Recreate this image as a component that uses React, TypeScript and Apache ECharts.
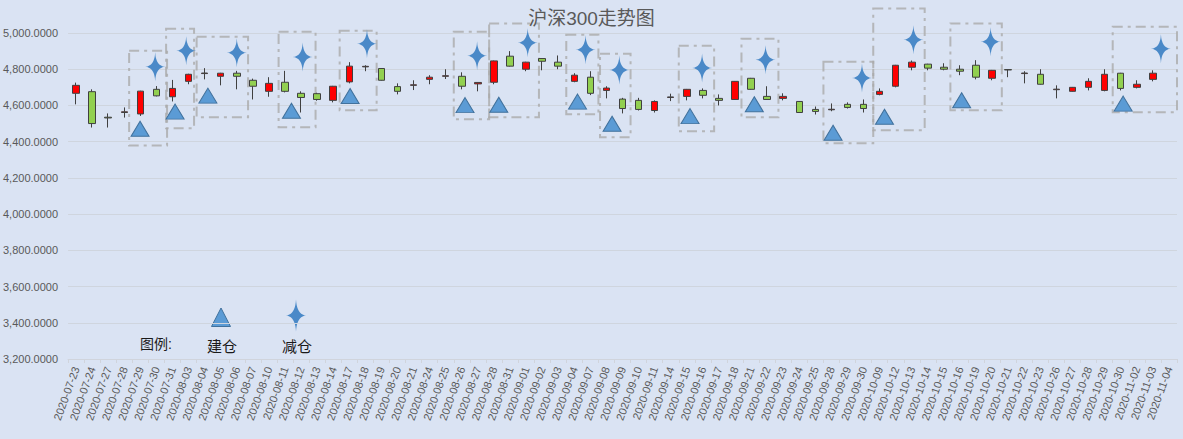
import React, { useEffect, useRef } from "react";
import * as echarts from "echarts";

const dates = [
  "2020-07-23","2020-07-24","2020-07-27","2020-07-28","2020-07-29","2020-07-30","2020-07-31",
  "2020-08-03","2020-08-04","2020-08-05","2020-08-06","2020-08-07","2020-08-10","2020-08-11",
  "2020-08-12","2020-08-13","2020-08-14","2020-08-17","2020-08-18","2020-08-19","2020-08-20",
  "2020-08-21","2020-08-24","2020-08-25","2020-08-26","2020-08-27","2020-08-28","2020-08-31",
  "2020-09-01","2020-09-02","2020-09-03","2020-09-04","2020-09-07","2020-09-08","2020-09-09",
  "2020-09-10","2020-09-11","2020-09-14","2020-09-15","2020-09-16","2020-09-17","2020-09-18",
  "2020-09-21","2020-09-22","2020-09-23","2020-09-24","2020-09-25","2020-09-28","2020-09-29",
  "2020-09-30","2020-10-09","2020-10-12","2020-10-13","2020-10-14","2020-10-15","2020-10-16",
  "2020-10-19","2020-10-20","2020-10-21","2020-10-22","2020-10-23","2020-10-26","2020-10-27",
  "2020-10-28","2020-10-29","2020-10-30","2020-11-02","2020-11-03","2020-11-04",
];

const opens = [
  4667,4676,4535,4561,4553,4689,4648,4733,4776,4761,4778,4739,4678,4728,4667,4665,4628,4730,4813,4804,
  4704,4711,4744,4761,4761,4719,4728,4872,4800,4859,4839,4733,4756,4683,4635,4628,4572,4644,4650,4683,
  4639,4633,4750,4650,4639,4622,4578,4576,4606,4606,4661,4706,4811,4828,4811,4800,4822,4750,4798,4776,
  4772,4687,4678,4700,4683,4778,4700,4744,null,
];
const closes = [
  4711,4500,4531,4565,4679,4653,4694,4772,4779,4778,4761,4706,4722,4678,4644,4633,4706,4817,4816,4739,
  4678,4714,4756,4764,4706,4727,4846,4817,4839,4844,4817,4767,4667,4696,4583,4578,4622,4647,4689,4656,
  4628,4733,4689,4633,4650,4561,4567,4579,4589,4583,4678,4822,4839,4806,4800,4789,4756,4794,4796,4779,
  4717,4690,4700,4733,4772,4694,4717,4778,null,
];
const lows = [
  4606,4478,4478,4533,4542,4650,4622,4717,4744,4711,4689,4633,4648,4672,4561,4626,4617,4722,4789,4737,
  4661,4685,4717,4746,4689,4678,4717,4815,4789,4794,4800,4728,4657,4639,4556,4572,4561,4624,4628,4639,
  4600,4631,4687,4631,4628,4559,4550,4568,4583,4561,4656,4700,4794,4794,4794,4767,4744,4739,4756,4722,
  4715,4639,4676,4683,4678,4683,4694,4733,null,
];
const highs = [
  4726,4689,4556,4589,4681,4707,4741,4775,4806,4780,4791,4748,4756,4791,4678,4670,4708,4839,4822,4806,
  4722,4739,4767,4800,4783,4729,4848,4900,4841,4861,4876,4778,4789,4706,4642,4642,4628,4665,4691,4694,
  4661,4735,4752,4706,4667,4624,4594,4611,4617,4633,4694,4824,4848,4830,4833,4822,4850,4796,4800,4789,
  4800,4711,4702,4750,4800,4780,4739,4794,null,
];

const yTicks = ["3,200.0000","3,400.0000","3,600.0000","3,800.0000","4,000.0000","4,200.0000","4,400.0000","4,600.0000","4,800.0000","5,000.0000"];

// 建仓 markers: [category position, price]
const buyPos = [3.98, 6.16, 8.2, 13.4, 17.05, 24.2, 26.3, 31.2, 33.35, 38.2, 42.2, 47.1, 50.3, 55.1, 65.15];
const buyVal = [4471, 4566, 4654, 4571, 4652, 4602, 4604, 4621, 4499, 4541, 4607, 4449, 4538, 4629, 4610];
// 减仓 markers
const sellPos = [4.92, 6.85, 10.0, 14.1, 18.1, 24.95, 28.1, 31.7, 33.8, 38.95, 42.9, 48.9, 52.1, 56.9, 67.5];
const sellVal = [4813, 4902, 4891, 4868, 4941, 4874, 4946, 4907, 4796, 4807, 4852, 4752, 4963, 4952, 4913];
// dashed boxes: x from, x to, price low, price high
const boxX0 = [3.3, 5.6, 7.5, 12.6, 16.4, 23.5, 25.7, 30.5, 32.6, 37.5, 41.4, 46.5, 49.6, 54.4, 64.5];
const boxX1 = [5.66, 7.34, 10.7, 14.9, 18.7, 25.7, 28.8, 32.5, 34.5, 39.7, 43.7, 49.6, 52.8, 57.6, 68.5];
const boxLow = [4379, 4474, 4535, 4479, 4574, 4524, 4535, 4552, 4424, 4457, 4535, 4391, 4463, 4574, 4563];
const boxHigh = [4902, 5024, 4979, 5007, 5013, 5007, 5052, 4991, 4885, 4929, 4968, 4841, 5135, 5052, 5035];

const FONT = "'Liberation Sans', 'Noto Sans CJK SC', sans-serif";
const STAR_PATH = "path://M10,0 Q10.6,13.4 20,14 Q10.6,14.6 10,28 Q9.4,14.6 0,14 Q9.4,13.4 10,0 Z";

function starPoints(cx: number, cy: number, w: number, h: number) {
  const hw = w / 2, hh = h / 2;
  const tips = [[0, -hh], [hw, 0], [0, hh], [-hw, 0]];
  const ctrl = [[hw * 0.08, -hh * 0.06], [hw * 0.08, hh * 0.06], [-hw * 0.08, hh * 0.06], [-hw * 0.08, -hh * 0.06]];
  const pts: number[][] = [];
  for (let k = 0; k < 4; k++) {
    const a = tips[k], b = tips[(k + 1) % 4], c = ctrl[k];
    for (let s = 0; s < 10; s++) {
      const t = s / 10;
      const x = (1 - t) * (1 - t) * a[0] + 2 * (1 - t) * t * c[0] + t * t * b[0];
      const y = (1 - t) * (1 - t) * a[1] + 2 * (1 - t) * t * c[1] + t * t * b[1];
      pts.push([cx + x, cy + y]);
    }
  }
  return pts;
}

export default function App() {
  const ref = useRef<HTMLDivElement>(null);
  useEffect(() => {
    if (!ref.current) return;
    const chart = echarts.init(ref.current, undefined, { renderer: "svg" });
    const candles = dates.map((_, i) =>
      opens[i] == null ? ["-", "-", "-", "-"] : [opens[i], closes[i], lows[i], highs[i]]
    );
    const boxes = boxX0.map((x0, i) => [x0, boxX1[i], boxLow[i], boxHigh[i]]);
    chart.setOption({
      animation: false,
      backgroundColor: "#DAE3F3",
      title: {
        text: "沪深300走势图",
        left: "center",
        top: 4,
        textStyle: { color: "#595959", fontSize: 19, fontWeight: "normal", fontFamily: FONT },
      },
      grid: { left: 68, right: 6, top: 33, bottom: 80 },
      xAxis: [
        {
          type: "category",
          data: dates,
          boundaryGap: true,
          axisLine: { lineStyle: { color: "#d0d4dc" } },
          axisTick: { show: true, length: 4, lineStyle: { color: "#d0d4dc" } },
          axisLabel: { rotate: 70, interval: 0, color: "#595959", fontSize: 11, fontFamily: FONT, margin: 8 },
          splitLine: { show: false },
        },
        { type: "value", min: -0.5, max: 68.5, show: false },
      ],
      yAxis: {
        type: "value",
        min: 3200,
        max: 5000,
        interval: 200,
        axisLine: { show: false },
        axisTick: { show: false },
        axisLabel: {
          color: "#595959",
          fontSize: 11,
          fontFamily: FONT,
          margin: 10,
          formatter: (v: number) => yTicks[Math.round((v - 3200) / 200)] ?? "",
        },
        splitLine: { lineStyle: { color: "#cfd5de" } },
      },
      series: [
        {
          type: "candlestick",
          data: candles,
          barWidth: 7,
          itemStyle: {
            color: "#FF0000",
            color0: "#92D050",
            borderColor: "#404040",
            borderColor0: "#404040",
            borderWidth: 1,
          },
        },
        {
          type: "custom",
          xAxisIndex: 1,
          clip: false,
          silent: true,
          data: boxes,
          encode: { x: [0, 1], y: [2, 3] },
          renderItem: (params: any, api: any) => {
            const p0 = api.coord([api.value(0), api.value(3)]);
            const p1 = api.coord([api.value(1), api.value(2)]);
            return {
              type: "rect",
              shape: { x: p0[0], y: p0[1], width: p1[0] - p0[0], height: p1[1] - p0[1] },
              style: {
                fill: "none",
                stroke: "rgba(170,170,170,0.8)",
                lineWidth: 2,
                lineDash: [10, 5, 3, 5],
              },
            };
          },
          z: 1,
        },
        {
          type: "scatter",
          xAxisIndex: 1,
          clip: false,
          data: buyPos.map((x, i) => [x, buyVal[i]]),
          symbol: "triangle",
          symbolSize: [18, 15],
          itemStyle: { color: "#5B9BD5", borderColor: "#41719C", borderWidth: 1, opacity: 1 },
          z: 5,
        },
        {
          type: "scatter",
          xAxisIndex: 1,
          clip: false,
          data: sellPos.map((x, i) => [x, sellVal[i]]),
          symbol: STAR_PATH,
          symbolSize: [20, 29],
          itemStyle: { color: "#4A89C8", opacity: 1, borderWidth: 0 },
          z: 5,
        },
      ],
      graphic: [
        { type: "text", left: 140, top: 337, style: { text: "图例:", fill: "#1a1a1a", font: `14px ${FONT}` } },
        {
          type: "polygon",
          shape: { points: [[221, 308], [230.5, 326.5], [211.5, 326.5]] },
          style: { fill: "#5B9BD5", stroke: "#41719C", lineWidth: 1 },
        },
        { type: "text", left: 207, top: 339, style: { text: "建仓", fill: "#1a1a1a", font: `15px ${FONT}` } },
        {
          type: "polygon",
          shape: { points: starPoints(296, 315.5, 20, 32) },
          style: { fill: "#4A89C8" },
        },
        { type: "text", left: 282, top: 339, style: { text: "减仓", fill: "#1a1a1a", font: `15px ${FONT}` } },
      ],
    });
    return () => chart.dispose();
  }, []);
  return (
    <div
      ref={ref}
      style={{ position: "fixed", left: 0, top: 0, width: 1183, height: 439 }}
    />
  );
}
